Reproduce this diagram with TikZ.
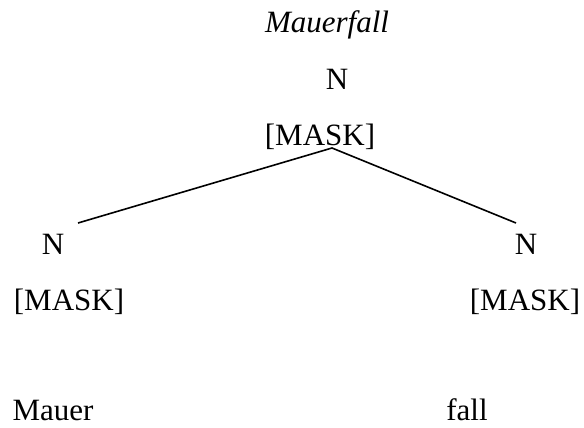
\documentclass[tikz,border=0pt]{standalone}
\usepackage{fontspec}
\setmainfont{Liberation Serif}
\begin{document}
\begin{tikzpicture}[x=1pt,y=-1pt,
  lbl/.style={anchor=base,inner sep=0pt,font=\fontsize{31}{36}\selectfont},
  branch/.style={line width=1.6pt}]
\useasboundingbox (0,0) rectangle (584,428);
% root
\node[lbl,font=\fontsize{31}{36}\selectfont\itshape] (word) at (327,33) {Mauerfall};
\node[lbl] (rootcat) at (337,89) {N};
\node[lbl] (rootmask) at (320,145) {[MASK]};
% daughters
\node[lbl] (lcat) at (53,254) {N};
\node[lbl] (lmask) at (69,310) {[MASK]};
\node[lbl] (rcat) at (526,254) {N};
\node[lbl] (rmask) at (525,310) {[MASK]};
% constituents
\node[lbl] (lword) at (53,420) {Mauer};
\node[lbl] (rword) at (467,420) {fall};
% branches
\coordinate (apex) at (332,148);
\coordinate (lend) at (78,223);
\coordinate (rend) at (516,223);
\draw[branch] (lend) -- (apex) -- (rend);
\end{tikzpicture}
\end{document}
